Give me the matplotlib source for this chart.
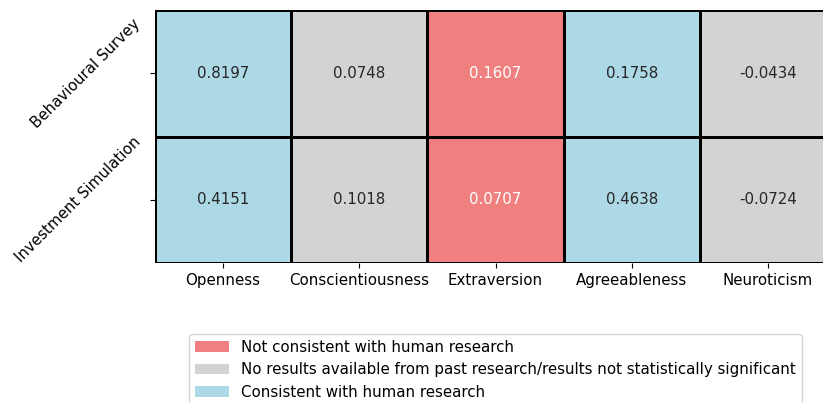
import numpy as np
import matplotlib
matplotlib.use("Agg")
import matplotlib.pyplot as plt
from matplotlib.colors import ListedColormap
from matplotlib.patches import Patch

traits = ["Openness", "Conscientiousness", "Extraversion", "Agreeableness", "Neuroticism"]
methods = ["Behavioural Survey", "Investment Simulation"]
values = [
    [0.8197, 0.0748, 0.1607, 0.1758, -0.0434],
    [0.4151, 0.1018, 0.0707, 0.4638, -0.0724],
]
# 0 = not consistent, 1 = no results / not significant, 2 = consistent
categories = [
    [2, 1, 0, 2, 1],
    [2, 1, 0, 2, 1],
]
cat_colors = ["lightcoral", "lightgray", "lightblue"]
cat_labels = [
    "Not consistent with human research",
    "No results available from past research/results not statistically significant",
    "Consistent with human research",
]

W, H = 823, 403
fs = 10.8
fig = plt.figure(figsize=(W / 100, H / 100), dpi=100)
ax = fig.add_axes([155 / W, 140 / H, 681 / W, 253 / H])

cats = np.array(categories)
ax.pcolormesh(cats, cmap=ListedColormap(cat_colors), vmin=-0.5, vmax=2.5,
              edgecolors="black", linewidth=1.0)
ax.set_xlim(0, len(traits))
ax.set_ylim(len(methods), 0)

for i in range(len(methods)):
    for j in range(len(traits)):
        col = "white" if cats[i, j] == 0 else "#262626"
        ax.text(j + 0.5, i + 0.5, f"{values[i][j]:.4f}", ha="center", va="center",
                fontsize=fs, color=col)

ax.set_xticks(np.arange(len(traits)) + 0.5)
ax.set_xticklabels(traits, fontsize=fs)
ax.set_yticks(np.arange(len(methods)) + 0.5)
ax.set_yticklabels(methods, fontsize=fs, rotation=45, ha="right", va="center")
ax.tick_params(axis="y", pad=5)
for s in ax.spines.values():
    s.set_visible(False)

handles = [Patch(facecolor=c, label=l) for c, l in zip(cat_colors, cat_labels)]
ax.legend(handles=handles, loc="upper center", bbox_to_anchor=(0.5, -0.25),
          fontsize=fs, ncol=1, frameon=True, handlelength=2.3)

fig.savefig("out.png", dpi=100)
